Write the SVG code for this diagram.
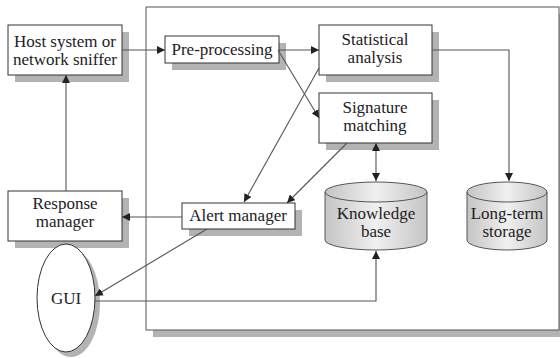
<svg xmlns="http://www.w3.org/2000/svg" width="560" height="358" viewBox="0 0 560 358">
<defs>
<style>
.box{fill:#fff;stroke:#333;stroke-width:1}
.sh{fill:#b3b3b3}
.t{font-size:17px;fill:#222;text-anchor:middle}
.c{fill:none;stroke:#555;stroke-width:1.1}
.cyl{fill:url(#g);stroke:#555;stroke-width:1}
</style>
<linearGradient id="g" x1="0" y1="0" x2="1" y2="0">
<stop offset="0" stop-color="#c4c4c4"/>
<stop offset="0.5" stop-color="#f0f0f0"/>
<stop offset="1" stop-color="#c4c4c4"/>
</linearGradient>
<marker id="a" viewBox="0 0 10 10" refX="10" refY="5" markerWidth="8" markerHeight="8" markerUnits="userSpaceOnUse" orient="auto-start-reverse">
<path d="M0,0 L10,5 L0,10 z" fill="#222"/>
</marker>
</defs>
<rect width="560" height="358" fill="#fff"/>
<g id="frame">
<rect class="sh" x="153" y="14" width="410" height="323"/>
<rect x="146" y="7" width="413" height="323" fill="#fff" stroke="#555" stroke-width="1"/>
</g>
<g font-family="'Liberation Serif', 'Times New Roman', serif">
<g id="host">
<rect class="sh" x="15" y="32" width="114" height="50"/>
<rect class="box" x="8" y="25" width="114" height="50"/>
<text class="t" x="65" y="47">Host system or</text>
<text class="t" x="65" y="65">network sniffer</text>
</g>
<g id="preprocessing">
<rect class="sh" x="172" y="43" width="114" height="27"/>
<rect class="box" x="165" y="36" width="114" height="27"/>
<text class="t" x="222" y="55">Pre-processing</text>
</g>
<g id="statistical">
<rect class="sh" x="326" y="32" width="113" height="50"/>
<rect class="box" x="319" y="25" width="113" height="50"/>
<text class="t" x="375" y="45">Statistical</text>
<text class="t" x="375" y="63">analysis</text>
</g>
<g id="signature">
<rect class="sh" x="326" y="100" width="113" height="50"/>
<rect class="box" x="319" y="93" width="113" height="50"/>
<text class="t" x="375" y="113">Signature</text>
<text class="t" x="375" y="131">matching</text>
</g>
<g id="response">
<rect class="sh" x="15" y="198" width="114" height="50"/>
<rect class="box" x="8" y="191" width="114" height="50"/>
<text class="t" x="65" y="209">Response</text>
<text class="t" x="65" y="227">manager</text>
</g>
<g id="alert">
<rect class="sh" x="189" y="210" width="113" height="26"/>
<rect class="box" x="182" y="203" width="113" height="26"/>
<text class="t" x="238" y="221">Alert manager</text>
</g>
<g id="gui">
<ellipse class="sh" cx="71" cy="303" rx="29" ry="54"/>
<ellipse cx="66" cy="298" rx="29" ry="54" fill="#fff" stroke="#333" stroke-width="1"/>
<text class="t" x="66" y="304">GUI</text>
</g>
<g id="knowledge">
<path class="cyl" d="M325,192 A51,10 0 0 1 427,192 L427,240 A51,10 0 0 1 325,240 Z"/>
<path d="M325,192 A51,10 0 0 0 427,192" fill="none" stroke="#555" stroke-width="1"/>
<text class="t" x="376" y="219">Knowledge</text>
<text class="t" x="376" y="237">base</text>
</g>
<g id="longterm">
<path class="cyl" d="M467,192 A40,10 0 0 1 547,192 L547,240 A40,10 0 0 1 467,240 Z"/>
<path d="M467,192 A40,10 0 0 0 547,192" fill="none" stroke="#555" stroke-width="1"/>
<text class="t" x="507" y="219">Long-term</text>
<text class="t" x="507" y="237">storage</text>
</g>
</g>
<g id="connectors">
<path class="c" d="M122,50 L165,50" marker-end="url(#a)"/>
<path class="c" d="M279,50 L319,50" marker-end="url(#a)"/>
<path class="c" d="M278,50 L319,118" marker-end="url(#a)"/>
<path class="c" d="M432,50 L509,50 L509,181" marker-end="url(#a)"/>
<path class="c" d="M319,68 L244,202" marker-end="url(#a)"/>
<path class="c" d="M347,143 L287,203" marker-end="url(#a)"/>
<path class="c" d="M376,143 L376,181" marker-start="url(#a)" marker-end="url(#a)"/>
<path class="c" d="M182,217 L122,217" marker-end="url(#a)"/>
<path class="c" d="M66,191 L66,75" marker-end="url(#a)"/>
<path class="c" d="M207,229 L95,296" marker-end="url(#a)"/>
<path class="c" d="M95,301 L376,301 L376,251" marker-end="url(#a)"/>
</g>
</svg>
